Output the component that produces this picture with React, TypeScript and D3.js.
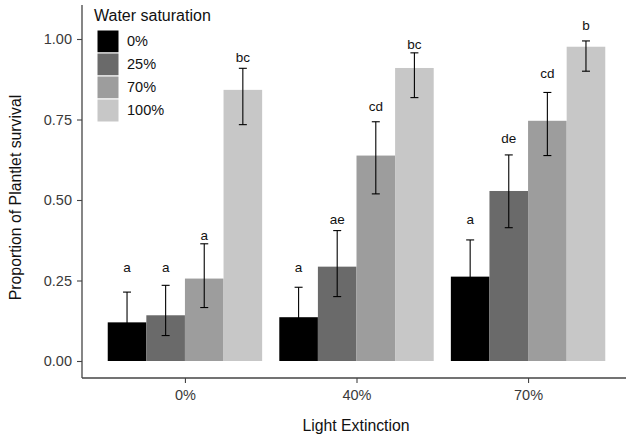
import React, { useEffect, useRef } from 'react'
import * as d3 from 'd3'

const lightLevels = ['0%', '40%', '70%']
const waterLevels = ['0%', '25%', '70%', '100%']
const waterColors = ['#000000', '#6a6a6a', '#9d9d9d', '#c7c7c7']

// mean survival per light level, one array per water saturation
const survival0 = [0.12, 0.136, 0.262]
const survival25 = [0.142, 0.293, 0.528]
const survival70 = [0.256, 0.638, 0.746]
const survival100 = [0.842, 0.91, 0.976]

// error bar ends
const upper0 = [0.214, 0.229, 0.376]
const upper25 = [0.235, 0.405, 0.64]
const upper70 = [0.364, 0.743, 0.834]
const upper100 = [0.909, 0.957, 0.994]
const lower0 = [0.026, 0.043, 0.148]
const lower25 = [0.079, 0.2, 0.414]
const lower70 = [0.166, 0.519, 0.638]
const lower100 = [0.734, 0.818, 0.9]

// significance letters and their heights
const letters0 = ['a', 'a', 'a']
const letters25 = ['a', 'ae', 'de']
const letters70 = ['a', 'cd', 'cd']
const letters100 = ['bc', 'bc', 'b']
const letterY0 = [0.292, 0.292, 0.441]
const letterY25 = [0.292, 0.441, 0.693]
const letterY70 = [0.391, 0.792, 0.894]
const letterY100 = [0.944, 0.984, 1.043]

const yTicks = [0, 0.25, 0.5, 0.75, 1]

const series = [
  { mean: survival0, up: upper0, lo: lower0, lab: letters0, labY: letterY0 },
  { mean: survival25, up: upper25, lo: lower25, lab: letters25, labY: letterY25 },
  { mean: survival70, up: upper70, lo: lower70, lab: letters70, labY: letterY70 },
  { mean: survival100, up: upper100, lo: lower100, lab: letters100, labY: letterY100 },
]

export default function App() {
  const ref = useRef<SVGSVGElement>(null)

  useEffect(() => {
    const svg = d3.select(ref.current)
    svg.selectAll('*').remove()
    const font = 'Liberation Sans, Arial, sans-serif'

    const left = 82
    const bottom = 378
    const top = 5
    const right = 631

    const x = d3.scalePoint().domain(lightLevels).range([left, right]).padding(0.6)
    const step = x.step()
    const dodge = d3.scaleBand().domain(waterLevels).range([-step * 0.45, step * 0.45])
    const y = d3.scaleLinear().domain([-0.0528, 1.1056]).range([bottom, top])

    const rows = series.flatMap((s, si) =>
      lightLevels.map((l, li) => ({
        light: l,
        water: waterLevels[si],
        color: waterColors[si],
        mean: s.mean[li],
        up: s.up[li],
        lo: s.lo[li],
        lab: s.lab[li],
        labY: s.labY[li],
      }))
    )
    const bx = (d: any) => (x(d.light) as number) + (dodge(d.water) as number)
    const bw = dodge.bandwidth()

    svg.append('g').selectAll('rect').data(rows).join('rect')
      .attr('x', bx)
      .attr('y', (d) => y(d.mean))
      .attr('width', bw)
      .attr('height', (d) => y(0) - y(d.mean))
      .attr('fill', (d) => d.color)

    const err = svg.append('g').attr('stroke', '#000').attr('stroke-width', 1.1)
    rows.forEach((d) => {
      const cx = bx(d) + bw / 2
      err.append('line').attr('x1', cx).attr('x2', cx).attr('y1', y(d.lo)).attr('y2', y(d.up))
      err.append('line').attr('x1', cx - 4).attr('x2', cx + 4).attr('y1', y(d.lo)).attr('y2', y(d.lo))
      err.append('line').attr('x1', cx - 4).attr('x2', cx + 4).attr('y1', y(d.up)).attr('y2', y(d.up))
    })

    svg.append('g').selectAll('text').data(rows).join('text')
      .attr('x', (d) => bx(d) + bw / 2)
      .attr('y', (d) => y(d.labY))
      .attr('dy', '0.35em')
      .attr('text-anchor', 'middle')
      .attr('font-family', font)
      .attr('font-size', 13.5)
      .attr('fill', '#111')
      .text((d) => d.lab)

    // axes
    const yAxis = svg.append('g')
      .attr('transform', `translate(${left},0)`)
      .call(d3.axisLeft(y).tickValues(yTicks).tickFormat(d3.format('.2f')).tickSize(5).tickPadding(5))
    const xAxis = svg.append('g')
      .attr('transform', `translate(0,${bottom})`)
      .call(d3.axisBottom(x).tickSize(5).tickPadding(7))
    ;[yAxis, xAxis].forEach((a) => {
      a.select('.domain').attr('stroke', '#444').attr('stroke-width', 1.3)
      a.selectAll('.tick line').attr('stroke', '#444').attr('stroke-width', 1.1)
      a.selectAll('.tick text').attr('fill', '#3a3a3a').attr('font-size', 14.5).attr('font-family', font)
    })
    yAxis.select('.domain').attr('d', `M0,${top}V${bottom}`)
    xAxis.select('.domain').attr('d', `M${left},0H626`)

    svg.append('text')
      .attr('x', (left + 626) / 2 + 2)
      .attr('y', 427)
      .attr('text-anchor', 'middle')
      .attr('dominant-baseline', 'middle')
      .attr('font-family', font)
      .attr('font-size', 15.8)
      .attr('fill', '#111')
      .text('Light Extinction')

    svg.append('text')
      .attr('transform', `translate(17,${(top + bottom) / 2 + 6}) rotate(-90)`)
      .attr('text-anchor', 'middle')
      .attr('dominant-baseline', 'middle')
      .attr('font-family', font)
      .attr('font-size', 15.8)
      .attr('fill', '#111')
      .text('Proportion of Plantlet survival')

    // legend
    const legend = svg.append('g').attr('transform', 'translate(94,9)')
    legend.append('text')
      .attr('x', 0).attr('y', 8)
      .attr('dominant-baseline', 'middle')
      .attr('font-family', font).attr('font-size', 16).attr('fill', '#111')
      .text('Water saturation')
    waterLevels.forEach((w, i) => {
      legend.append('rect')
        .attr('x', 3).attr('y', 21 + i * 23)
        .attr('width', 22).attr('height', 23)
        .attr('fill', waterColors[i])
        .attr('stroke', '#fff').attr('stroke-width', 1)
      legend.append('text')
        .attr('x', 33).attr('y', 21 + i * 23 + 12)
        .attr('dominant-baseline', 'middle')
        .attr('font-family', font).attr('font-size', 14.5).attr('fill', '#111')
        .text(w)
    })
  }, [])

  return (
    <svg ref={ref} width={626} height={436}
      style={{ position: 'fixed', top: 0, left: 0, background: '#fff' }} />
  )
}
